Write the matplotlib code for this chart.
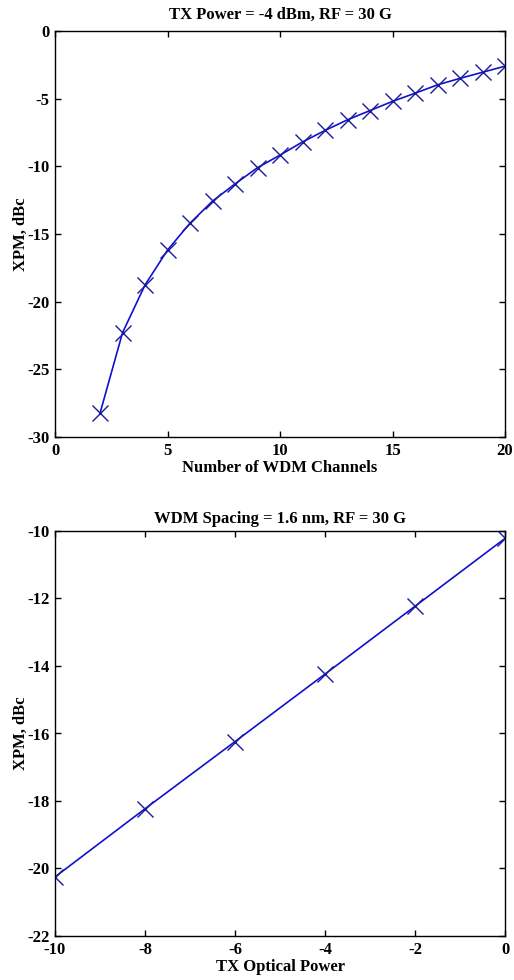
import matplotlib
matplotlib.use("Agg")
import matplotlib.pyplot as plt

# Top panel data
n_channels = [2, 3, 4, 5, 6, 7, 8, 9, 10, 11, 12, 13, 14, 15, 16, 17, 18, 19, 20]
xpm_channels = [-28.25, -22.3, -18.77, -16.19, -14.2, -12.57, -11.3, -10.1, -9.17,
                -8.2, -7.35, -6.56, -5.88, -5.2, -4.6, -3.98, -3.5, -3.05, -2.6]

# Bottom panel data
tx_power = [-10, -8, -6, -4, -2, 0]
xpm_power = [-20.25, -18.23, -16.24, -14.24, -12.23, -10.22]

top_title = "TX Power = -4 dBm, RF = 30 G"
bottom_title = "WDM Spacing = 1.6 nm, RF = 30 G"
ylab = "XPM, dBc"
top_xlab = "Number of WDM Channels"
bottom_xlab = "TX Optical Power"

plt.rcParams['font.family'] = ['Liberation Serif']
plt.rcParams['font.weight'] = 'bold'
plt.rcParams['axes.unicode_minus'] = False
fs = 12

fig = plt.figure(figsize=(5.14, 9.8), dpi=100)
W, H = 514, 980

def add_ax(l, t, r, b):
    return fig.add_axes([l / W, 1 - b / H, (r - l) / W, (b - t) / H])

ax1 = add_ax(55, 31, 505, 437)
ax2 = add_ax(55, 531, 505, 936)

color = '#1010d0'
for ax, x, y in [(ax1, n_channels, xpm_channels), (ax2, tx_power, xpm_power)]:
    ax.plot(x, y, color=color, lw=1.2, marker='x', markersize=11,
            markeredgewidth=1.0, markeredgecolor='#1a1a9a')
    ax.tick_params(direction='in', top=True, right=True, length=4, width=1,
                   labelsize=fs)
    ax.tick_params(axis='x', pad=4)
    ax.tick_params(axis='y', pad=4)
    for s in ax.spines.values():
        s.set_linewidth(1.0)

ax1.set_xlim(0, 20)
ax1.set_ylim(-30, 0)
ax1.set_xticks([0, 5, 10, 15, 20])
ax1.set_yticks([-30, -25, -20, -15, -10, -5, 0])
ax1.set_title(top_title, fontsize=fs, fontweight='bold', pad=9)
ax1.set_xlabel(top_xlab, fontsize=fs, fontweight='bold', labelpad=1)
ax1.set_ylabel(ylab, fontsize=fs, fontweight='bold', labelpad=-1)

ax2.set_xlim(-10, 0)
ax2.set_ylim(-22, -10)
ax2.set_xticks([-10, -8, -6, -4, -2, 0])
ax2.set_yticks([-22, -20, -18, -16, -14, -12, -10])
ax2.set_title(bottom_title, fontsize=fs, fontweight='bold', pad=6)
ax2.set_xlabel(bottom_xlab, fontsize=fs, fontweight='bold', labelpad=1)
ax2.set_ylabel(ylab, fontsize=fs, fontweight='bold', labelpad=-1)

for ax in (ax1, ax2):
    for lab in ax.get_xticklabels() + ax.get_yticklabels():
        lab.set_fontweight('bold')

fig.savefig("out.png", dpi=100)
